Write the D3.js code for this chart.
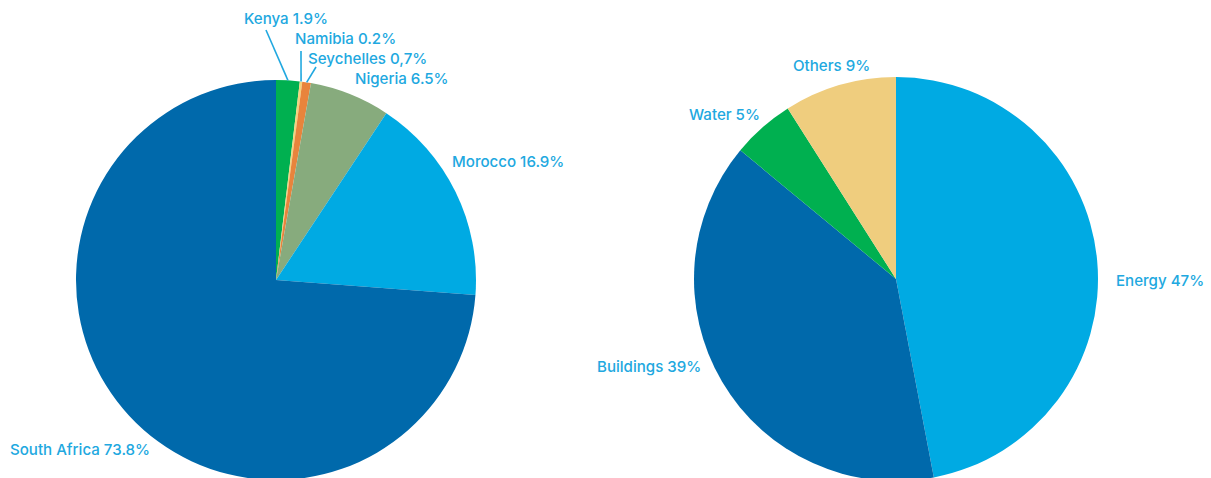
<!DOCTYPE html>
<html>
<head>
<meta charset="utf-8">
<script src="https://cdn.jsdelivr.net/npm/d3@7"></script>
<style>
  html, body { margin: 0; padding: 0; background: #ffffff; }
  svg { display: block; }
  .lbl { font-family: Inter, "Open Sans", sans-serif; font-size: 15.1px; fill: #21a8e0; font-weight: 500; }
</style>
</head>
<body>
<svg id="chart" width="1211" height="478"></svg>
<script>
// Left pie: share by country
const countries = ["Kenya", "Namibia", "Seychelles", "Nigeria", "Morocco", "South Africa"];
const countryShares = [1.9, 0.2, 0.7, 6.5, 16.9, 73.8];
const countryLabels = ["Kenya 1.9%", "Namibia 0.2%", "Seychelles 0,7%", "Nigeria 6.5%", "Morocco 16.9%", "South Africa 73.8%"];
const countryColors = ["#00b050", "#f3d37c", "#e8843c", "#87ab7d", "#00aae3", "#0069ab"];

// Right pie: share by sector
const sectors = ["Energy", "Buildings", "Water", "Others"];
const sectorShares = [47, 39, 5, 9];
const sectorLabels = ["Energy 47%", "Buildings 39%", "Water 5%", "Others 9%"];
const sectorColors = ["#00aae3", "#0069ab", "#00b050", "#efcd7e"];

const svg = d3.select("#chart");

// Label placement (text start point, and where a leader line ends)
const leftLayout = {
  "Kenya":        { x: 244, y: 24, leader: [266, 30] },
  "Namibia":      { x: 295, y: 44, leader: [301, 51] },
  "Seychelles":   { x: 308, y: 64, leader: [316, 67] },
  "Nigeria":      { x: 355, y: 84 },
  "Morocco":      { x: 452, y: 167 },
  "South Africa": { x: 10,  y: 455 }
};
const rightLayout = {
  "Energy":    { x: 1116, y: 286 },
  "Buildings": { x: 597,  y: 372 },
  "Water":     { x: 689,  y: 120 },
  "Others":    { x: 793,  y: 71 }
};

function drawPie(cx, cy, r, names, values, labels, colors, layout) {
  const g = svg.append("g").attr("transform", `translate(${cx},${cy})`);
  const pie = d3.pie().sort(null).value(d => d.value);
  const arc = d3.arc().innerRadius(0).outerRadius(r);
  const rim = d3.arc().innerRadius(r).outerRadius(r);
  const data = names.map((n, i) => ({ name: n, value: values[i], label: labels[i], color: colors[i] }));
  const arcs = pie(data);

  g.selectAll("path.slice").data(arcs).join("path")
    .attr("class", "slice")
    .attr("d", arc)
    .attr("fill", d => d.data.color);

  // leader lines from the slice's rim midpoint to its label
  arcs.forEach(d => {
    const L = layout[d.data.name];
    if (L && L.leader) {
      const p = rim.centroid(d);
      svg.append("line")
        .attr("x1", cx + p[0]).attr("y1", cy + p[1])
        .attr("x2", L.leader[0]).attr("y2", L.leader[1])
        .attr("stroke", "#21a8e0").attr("stroke-width", 1.6);
    }
  });

  arcs.forEach(d => {
    const L = layout[d.data.name];
    svg.append("text").attr("class", "lbl")
      .attr("x", L.x).attr("y", L.y)
      .text(d.data.label);
  });
}

drawPie(276, 280, 200, countries, countryShares, countryLabels, countryColors, leftLayout);
drawPie(896, 279, 202, sectors, sectorShares, sectorLabels, sectorColors, rightLayout);
</script>
</body>
</html>
